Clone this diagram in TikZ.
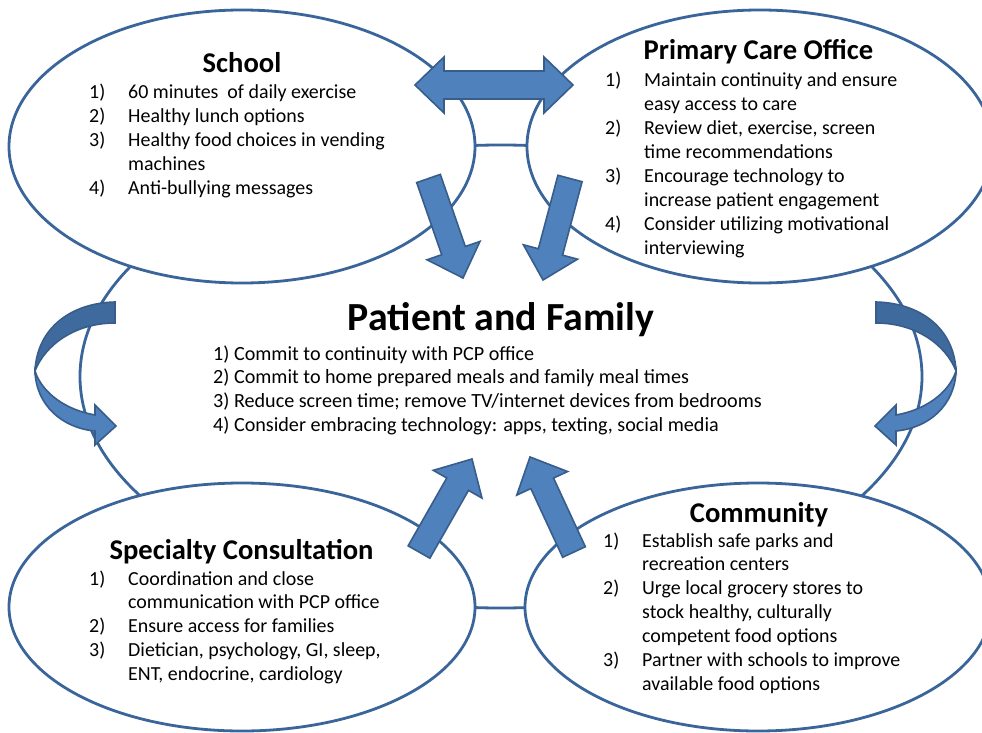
\documentclass[tikz,border=0pt]{standalone}
\usepackage{fontspec}
\setmainfont{Carlito}
\usetikzlibrary{shapes.geometric,calc}

\definecolor{rim}{HTML}{3A659A}
\definecolor{afill}{HTML}{4F81BD}
\definecolor{aline}{HTML}{385D8A}
\definecolor{adark}{HTML}{3F6A9E}

\tikzset{
  zone/.style={ellipse, draw=rim, line width=2.8bp, fill=white, inner sep=0pt},
  barrow/.style={draw=aline, fill=afill, line width=1.6bp, line join=miter},
  title/.style={font=\fontsize{28.7}{34}\selectfont\bfseries, inner sep=0pt, anchor=base},
  bigtitle/.style={font=\fontsize{40}{46}\selectfont\bfseries, inner sep=0pt, anchor=base},
  items/.style={font=\fontsize{20}{24}\selectfont, inner sep=0pt, anchor=base west, align=left},
}

% ribbon arrow that turns back on itself (left-hand version)
\newcommand\loopback{%
  % back face of the ribbon (upper crescent)
  \draw[barrow, fill=adark] (115,302) .. controls (71,303) and (37,328) .. (35,371)
    .. controls (45,345) and (75,323) .. (115,323) -- cycle;
  % front face with the arrow head
  \draw[barrow] (35,371) .. controls (36,405) and (62,428) .. (95,431)
    -- (95,445) -- (116,426) -- (95,405) -- (95,415)
    .. controls (66,410) and (42,393) .. (35,371) -- cycle;
}

% straight block arrow from tail #1 to tip #2
\newcommand\blockarrow[2]{%
  \coordinate (#1-base) at ($(#2)!29bp!(#1)$);
  \draw[barrow] ($(#1)!12.5bp!90:(#2)$) -- ($(#1-base)!12.5bp!90:(#2)$)
    -- ($(#1-base)!28bp!90:(#2)$) -- (#2) -- ($(#1-base)!28bp!-90:(#2)$)
    -- ($(#1-base)!12.5bp!-90:(#2)$) -- ($(#1)!12.5bp!-90:(#2)$) -- cycle;
}

\newcommand\itemlist[1]{\begin{tabular}[t]{@{}p{39bp}@{}l@{}}#1\end{tabular}}

\begin{document}
\begin{tikzpicture}[x=1bp, y=-1bp]
\useasboundingbox (0,0) rectangle (982,733);
\clip (0,0) rectangle (982,733);
\fill[white] (0,0) rectangle (982,733);

% central zone and the four surrounding zones
\node[zone, minimum width=842bp, minimum height=463bp] (family) at (501,376.5) {};
\node[zone, minimum width=466bp, minimum height=273bp] (school) at (242,146.5) {};
\node[zone, minimum width=466bp, minimum height=273bp] (pco) at (760,146.5) {};
\node[zone, minimum width=466bp, minimum height=248bp] (spec) at (242,607) {};
\node[zone, minimum width=466bp, minimum height=248bp] (comm) at (758,607) {};

% two-way arrow between school and primary care
\draw[barrow] (415,85) -- (444,57) -- (444,71) -- (544,71) -- (544,57) -- (573,85)
  -- (544,113) -- (544,99) -- (444,99) -- (444,113) -- cycle;

% arrows towards the family
\coordinate (school-tail) at (428.5,178.5); \coordinate (school-tip) at (463,278);
\coordinate (pco-tail) at (570,178.5);     \coordinate (pco-tip) at (543,280);
\coordinate (spec-tail) at (419,552);      \coordinate (spec-tip) at (472,459);
\coordinate (comm-tail) at (574,552);      \coordinate (comm-tip) at (530,457);
\blockarrow{school-tail}{school-tip}
\blockarrow{pco-tail}{pco-tip}
\blockarrow{spec-tail}{spec-tip}
\blockarrow{comm-tail}{comm-tip}

% curved arrows on both sides
\loopback
\begin{scope}[shift={(991,0)}, xscale=-1]
  \loopback
\end{scope}

% texts
\node[title] (school-title) at (242,72.7) {School};
\node[items] (school-list) at (89,99) {\itemlist{%
  1) & 60 minutes\ \ of daily exercise\\
  2) & Healthy lunch options\\
  3) & Healthy food choices in vending\\
     & machines\\
  4) & Anti-bullying messages}};

\node[title] (pco-title) at (758.5,60) {Primary Care Office};
\node[items] (pco-list) at (605,87) {\itemlist{%
  1) & Maintain continuity and ensure\\
     & easy access to care\\
  2) & Review diet, exercise, screen\\
     & time recommendations\\
  3) & Encourage technology to\\
     & increase patient engagement\\
  4) & Consider utilizing motivational\\
     & interviewing}};

\node[bigtitle] (family-title) at (501,330) {Patient and Family};
\node[items, font=\fontsize{20.2}{24}\selectfont] (family-list) at (213,360) {\begin{tabular}[t]{@{}l@{}}
  1) Commit to continuity with PCP office\\
  2) Commit to home prepared meals and family meal times\\
  3) Reduce screen time; remove TV/internet devices from bedrooms\\
  4) Consider embracing technology: apps, texting, social media\end{tabular}};

\node[title] (spec-title) at (241.5,559) {Specialty Consultation};
\node[items] (spec-list) at (89,585) {\itemlist{%
  1) & Coordination and close\\
     & communication with PCP office\\
  2) & Ensure access for families\\
  3) & Dietician, psychology, GI, sleep,\\
     & ENT, endocrine, cardiology}};

\node[title] (comm-title) at (759,522) {Community};
\node[items] (comm-list) at (603,547) {\itemlist{%
  1) & Establish safe parks and\\
     & recreation centers\\
  2) & Urge local grocery stores to\\
     & stock healthy, culturally\\
     & competent food options\\
  3) & Partner with schools to improve\\
     & available food options}};
\end{tikzpicture}
\end{document}
